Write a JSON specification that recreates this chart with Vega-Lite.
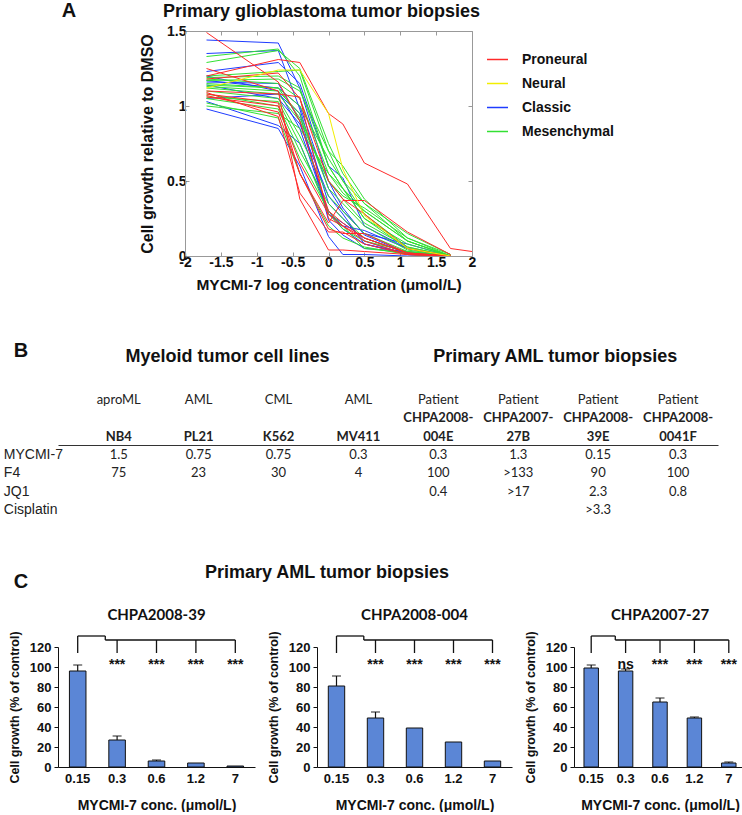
{
"$schema":"https://vega.github.io/schema/vega-lite/v6.json",
"padding":{"left":3,"top":1,"right":0,"bottom":0},
"background":"white",
"config":{"view":{"stroke":null},"font":"Liberation Sans","axis":{"labelOverlap":false}},
"spacing":42,
"datasets":{
"gbm":[
{"id":"c1","t":"Classic","x":-1.7,"y":1.44},{"id":"c1","t":"Classic","x":-0.7,"y":1.42},{"id":"c1","t":"Classic","x":-0.4,"y":1.12},{"id":"c1","t":"Classic","x":0,"y":0.5},{"id":"c1","t":"Classic","x":0.2,"y":0.32},{"id":"c1","t":"Classic","x":0.5,"y":0.14},{"id":"c1","t":"Classic","x":1.1,"y":0.02},{"id":"c1","t":"Classic","x":1.7,"y":0},
{"id":"c2","t":"Classic","x":-1.7,"y":1.35},{"id":"c2","t":"Classic","x":-0.7,"y":1.37},{"id":"c2","t":"Classic","x":-0.4,"y":0.98},{"id":"c2","t":"Classic","x":0,"y":0.35},{"id":"c2","t":"Classic","x":0.2,"y":0.25},{"id":"c2","t":"Classic","x":0.5,"y":0.1},{"id":"c2","t":"Classic","x":1.1,"y":0.01},{"id":"c2","t":"Classic","x":1.7,"y":0},
{"id":"c3","t":"Classic","x":-1.7,"y":1.23},{"id":"c3","t":"Classic","x":-0.7,"y":1.29},{"id":"c3","t":"Classic","x":-0.4,"y":1.15},{"id":"c3","t":"Classic","x":0,"y":0.6},{"id":"c3","t":"Classic","x":0.2,"y":0.52},{"id":"c3","t":"Classic","x":0.5,"y":0.2},{"id":"c3","t":"Classic","x":1.1,"y":0.05},{"id":"c3","t":"Classic","x":1.7,"y":0},
{"id":"c4","t":"Classic","x":-1.7,"y":0.98},{"id":"c4","t":"Classic","x":-0.7,"y":0.85},{"id":"c4","t":"Classic","x":-0.4,"y":0.6},{"id":"c4","t":"Classic","x":0,"y":0.13},{"id":"c4","t":"Classic","x":0.2,"y":0.01},{"id":"c4","t":"Classic","x":0.5,"y":0.01},{"id":"c4","t":"Classic","x":1.1,"y":0},{"id":"c4","t":"Classic","x":1.7,"y":0},
{"id":"c5","t":"Classic","x":-1.7,"y":1.03},{"id":"c5","t":"Classic","x":-0.7,"y":0.87},{"id":"c5","t":"Classic","x":-0.4,"y":0.75},{"id":"c5","t":"Classic","x":0,"y":0.3},{"id":"c5","t":"Classic","x":0.2,"y":0.18},{"id":"c5","t":"Classic","x":0.5,"y":0.08},{"id":"c5","t":"Classic","x":1.1,"y":0.02},{"id":"c5","t":"Classic","x":1.7,"y":0},
{"id":"c6","t":"Classic","x":-1.7,"y":1.16},{"id":"c6","t":"Classic","x":-0.7,"y":1.15},{"id":"c6","t":"Classic","x":-0.4,"y":0.9},{"id":"c6","t":"Classic","x":0,"y":0.28},{"id":"c6","t":"Classic","x":0.2,"y":0.2},{"id":"c6","t":"Classic","x":0.5,"y":0.17},{"id":"c6","t":"Classic","x":1.1,"y":0.05},{"id":"c6","t":"Classic","x":1.7,"y":0},
{"id":"c7","t":"Classic","x":-1.7,"y":1.17},{"id":"c7","t":"Classic","x":-0.7,"y":1.12},{"id":"c7","t":"Classic","x":-0.4,"y":1.0},{"id":"c7","t":"Classic","x":0,"y":0.45},{"id":"c7","t":"Classic","x":0.2,"y":0.3},{"id":"c7","t":"Classic","x":0.5,"y":0.15},{"id":"c7","t":"Classic","x":1.1,"y":0.08},{"id":"c7","t":"Classic","x":1.7,"y":0},
{"id":"c8","t":"Classic","x":-1.7,"y":1.05},{"id":"c8","t":"Classic","x":-0.7,"y":1.08},{"id":"c8","t":"Classic","x":-0.4,"y":0.95},{"id":"c8","t":"Classic","x":0,"y":0.24},{"id":"c8","t":"Classic","x":0.2,"y":0.14},{"id":"c8","t":"Classic","x":0.5,"y":0.05},{"id":"c8","t":"Classic","x":1.1,"y":0.03},{"id":"c8","t":"Classic","x":1.7,"y":0},
{"id":"c9","t":"Classic","x":-1.7,"y":1.2},{"id":"c9","t":"Classic","x":-0.7,"y":1.1},{"id":"c9","t":"Classic","x":-0.4,"y":0.85},{"id":"c9","t":"Classic","x":0,"y":0.28},{"id":"c9","t":"Classic","x":0.2,"y":0.22},{"id":"c9","t":"Classic","x":0.5,"y":0.12},{"id":"c9","t":"Classic","x":1.1,"y":0.02},{"id":"c9","t":"Classic","x":1.7,"y":0},
{"id":"c10","t":"Classic","x":-1.7,"y":1.14},{"id":"c10","t":"Classic","x":-0.7,"y":1.05},{"id":"c10","t":"Classic","x":-0.4,"y":0.88},{"id":"c10","t":"Classic","x":0,"y":0.4},{"id":"c10","t":"Classic","x":0.2,"y":0.28},{"id":"c10","t":"Classic","x":0.5,"y":0.08},{"id":"c10","t":"Classic","x":1.1,"y":0.01},{"id":"c10","t":"Classic","x":1.7,"y":0},
{"id":"m1","t":"Mesenchymal","x":-1.7,"y":1.33},{"id":"m1","t":"Mesenchymal","x":-0.7,"y":1.38},{"id":"m1","t":"Mesenchymal","x":-0.4,"y":1.2},{"id":"m1","t":"Mesenchymal","x":0,"y":0.6},{"id":"m1","t":"Mesenchymal","x":0.2,"y":0.45},{"id":"m1","t":"Mesenchymal","x":0.5,"y":0.25},{"id":"m1","t":"Mesenchymal","x":1.1,"y":0.05},{"id":"m1","t":"Mesenchymal","x":1.7,"y":0},
{"id":"m2","t":"Mesenchymal","x":-1.7,"y":1.29},{"id":"m2","t":"Mesenchymal","x":-0.7,"y":1.37},{"id":"m2","t":"Mesenchymal","x":-0.4,"y":1.25},{"id":"m2","t":"Mesenchymal","x":0,"y":0.75},{"id":"m2","t":"Mesenchymal","x":0.2,"y":0.55},{"id":"m2","t":"Mesenchymal","x":0.5,"y":0.35},{"id":"m2","t":"Mesenchymal","x":1.1,"y":0.1},{"id":"m2","t":"Mesenchymal","x":1.7,"y":0},
{"id":"m3","t":"Mesenchymal","x":-1.7,"y":1.2},{"id":"m3","t":"Mesenchymal","x":-0.7,"y":1.23},{"id":"m3","t":"Mesenchymal","x":-0.4,"y":1.24},{"id":"m3","t":"Mesenchymal","x":0,"y":0.7},{"id":"m3","t":"Mesenchymal","x":0.2,"y":0.6},{"id":"m3","t":"Mesenchymal","x":0.5,"y":0.38},{"id":"m3","t":"Mesenchymal","x":1.1,"y":0.12},{"id":"m3","t":"Mesenchymal","x":1.7,"y":0},
{"id":"m4","t":"Mesenchymal","x":-1.7,"y":1.18},{"id":"m4","t":"Mesenchymal","x":-0.7,"y":1.15},{"id":"m4","t":"Mesenchymal","x":-0.4,"y":1.05},{"id":"m4","t":"Mesenchymal","x":0,"y":0.55},{"id":"m4","t":"Mesenchymal","x":0.2,"y":0.45},{"id":"m4","t":"Mesenchymal","x":0.5,"y":0.3},{"id":"m4","t":"Mesenchymal","x":1.1,"y":0.1},{"id":"m4","t":"Mesenchymal","x":1.7,"y":0},
{"id":"m5","t":"Mesenchymal","x":-1.7,"y":1.15},{"id":"m5","t":"Mesenchymal","x":-0.7,"y":1.12},{"id":"m5","t":"Mesenchymal","x":-0.4,"y":1.0},{"id":"m5","t":"Mesenchymal","x":0,"y":0.65},{"id":"m5","t":"Mesenchymal","x":0.2,"y":0.5},{"id":"m5","t":"Mesenchymal","x":0.5,"y":0.28},{"id":"m5","t":"Mesenchymal","x":1.1,"y":0.06},{"id":"m5","t":"Mesenchymal","x":1.7,"y":0},
{"id":"m6","t":"Mesenchymal","x":-1.7,"y":1.13},{"id":"m6","t":"Mesenchymal","x":-0.7,"y":1.1},{"id":"m6","t":"Mesenchymal","x":-0.4,"y":0.95},{"id":"m6","t":"Mesenchymal","x":0,"y":0.45},{"id":"m6","t":"Mesenchymal","x":0.2,"y":0.35},{"id":"m6","t":"Mesenchymal","x":0.5,"y":0.2},{"id":"m6","t":"Mesenchymal","x":1.1,"y":0.04},{"id":"m6","t":"Mesenchymal","x":1.7,"y":0},
{"id":"m7","t":"Mesenchymal","x":-1.7,"y":1.12},{"id":"m7","t":"Mesenchymal","x":-0.7,"y":1.08},{"id":"m7","t":"Mesenchymal","x":-0.4,"y":0.9},{"id":"m7","t":"Mesenchymal","x":0,"y":0.5},{"id":"m7","t":"Mesenchymal","x":0.2,"y":0.38},{"id":"m7","t":"Mesenchymal","x":0.5,"y":0.22},{"id":"m7","t":"Mesenchymal","x":1.1,"y":0.06},{"id":"m7","t":"Mesenchymal","x":1.7,"y":0},
{"id":"m8","t":"Mesenchymal","x":-1.7,"y":1.1},{"id":"m8","t":"Mesenchymal","x":-0.7,"y":1.05},{"id":"m8","t":"Mesenchymal","x":-0.4,"y":0.8},{"id":"m8","t":"Mesenchymal","x":0,"y":0.4},{"id":"m8","t":"Mesenchymal","x":0.2,"y":0.3},{"id":"m8","t":"Mesenchymal","x":0.5,"y":0.15},{"id":"m8","t":"Mesenchymal","x":1.1,"y":0.03},{"id":"m8","t":"Mesenchymal","x":1.7,"y":0},
{"id":"m9","t":"Mesenchymal","x":-1.7,"y":1.08},{"id":"m9","t":"Mesenchymal","x":-0.7,"y":1.0},{"id":"m9","t":"Mesenchymal","x":-0.4,"y":0.7},{"id":"m9","t":"Mesenchymal","x":0,"y":0.35},{"id":"m9","t":"Mesenchymal","x":0.2,"y":0.25},{"id":"m9","t":"Mesenchymal","x":0.5,"y":0.12},{"id":"m9","t":"Mesenchymal","x":1.1,"y":0.02},{"id":"m9","t":"Mesenchymal","x":1.7,"y":0},
{"id":"m10","t":"Mesenchymal","x":-1.7,"y":1.05},{"id":"m10","t":"Mesenchymal","x":-0.7,"y":0.98},{"id":"m10","t":"Mesenchymal","x":-0.4,"y":0.65},{"id":"m10","t":"Mesenchymal","x":0,"y":0.3},{"id":"m10","t":"Mesenchymal","x":0.2,"y":0.2},{"id":"m10","t":"Mesenchymal","x":0.5,"y":0.05},{"id":"m10","t":"Mesenchymal","x":1.1,"y":0.02},{"id":"m10","t":"Mesenchymal","x":1.7,"y":0},
{"id":"m11","t":"Mesenchymal","x":-1.7,"y":1.0},{"id":"m11","t":"Mesenchymal","x":-0.7,"y":0.95},{"id":"m11","t":"Mesenchymal","x":-0.4,"y":0.85},{"id":"m11","t":"Mesenchymal","x":0,"y":0.55},{"id":"m11","t":"Mesenchymal","x":0.2,"y":0.42},{"id":"m11","t":"Mesenchymal","x":0.5,"y":0.3},{"id":"m11","t":"Mesenchymal","x":1.1,"y":0.1},{"id":"m11","t":"Mesenchymal","x":1.7,"y":0},
{"id":"m12","t":"Mesenchymal","x":-1.7,"y":1.02},{"id":"m12","t":"Mesenchymal","x":-0.7,"y":0.92},{"id":"m12","t":"Mesenchymal","x":-0.4,"y":0.55},{"id":"m12","t":"Mesenchymal","x":0,"y":0.2},{"id":"m12","t":"Mesenchymal","x":0.2,"y":0.12},{"id":"m12","t":"Mesenchymal","x":0.5,"y":0.06},{"id":"m12","t":"Mesenchymal","x":1.1,"y":0.01},{"id":"m12","t":"Mesenchymal","x":1.7,"y":0},
{"id":"m13","t":"Mesenchymal","x":-1.7,"y":1.17},{"id":"m13","t":"Mesenchymal","x":-0.7,"y":1.18},{"id":"m13","t":"Mesenchymal","x":-0.4,"y":1.1},{"id":"m13","t":"Mesenchymal","x":0,"y":0.7},{"id":"m13","t":"Mesenchymal","x":0.2,"y":0.5},{"id":"m13","t":"Mesenchymal","x":0.5,"y":0.35},{"id":"m13","t":"Mesenchymal","x":1.1,"y":0.15},{"id":"m13","t":"Mesenchymal","x":1.7,"y":0.01},
{"id":"m14","t":"Mesenchymal","x":-1.7,"y":1.14},{"id":"m14","t":"Mesenchymal","x":-0.7,"y":1.12},{"id":"m14","t":"Mesenchymal","x":-0.4,"y":0.92},{"id":"m14","t":"Mesenchymal","x":0,"y":0.5},{"id":"m14","t":"Mesenchymal","x":0.2,"y":0.4},{"id":"m14","t":"Mesenchymal","x":0.5,"y":0.32},{"id":"m14","t":"Mesenchymal","x":1.1,"y":0.12},{"id":"m14","t":"Mesenchymal","x":1.7,"y":0.01},
{"id":"m15","t":"Mesenchymal","x":-1.7,"y":1.06},{"id":"m15","t":"Mesenchymal","x":-0.7,"y":1.03},{"id":"m15","t":"Mesenchymal","x":-0.4,"y":0.75},{"id":"m15","t":"Mesenchymal","x":0,"y":0.28},{"id":"m15","t":"Mesenchymal","x":0.2,"y":0.18},{"id":"m15","t":"Mesenchymal","x":0.5,"y":0.1},{"id":"m15","t":"Mesenchymal","x":1.1,"y":0.03},{"id":"m15","t":"Mesenchymal","x":1.7,"y":0},
{"id":"m16","t":"Mesenchymal","x":-1.7,"y":1.19},{"id":"m16","t":"Mesenchymal","x":-0.7,"y":1.2},{"id":"m16","t":"Mesenchymal","x":-0.4,"y":1.12},{"id":"m16","t":"Mesenchymal","x":0,"y":0.6},{"id":"m16","t":"Mesenchymal","x":0.2,"y":0.45},{"id":"m16","t":"Mesenchymal","x":0.5,"y":0.25},{"id":"m16","t":"Mesenchymal","x":1.1,"y":0.08},{"id":"m16","t":"Mesenchymal","x":1.7,"y":0},
{"id":"p1","t":"Proneural","x":-1.7,"y":1.49},{"id":"p1","t":"Proneural","x":-0.7,"y":1.16},{"id":"p1","t":"Proneural","x":-0.4,"y":0.9},{"id":"p1","t":"Proneural","x":0,"y":0.3},{"id":"p1","t":"Proneural","x":0.2,"y":0.22},{"id":"p1","t":"Proneural","x":0.5,"y":0.12},{"id":"p1","t":"Proneural","x":1.1,"y":0.02},{"id":"p1","t":"Proneural","x":1.7,"y":0},
{"id":"p2","t":"Proneural","x":-1.7,"y":1.2},{"id":"p2","t":"Proneural","x":-0.7,"y":1.31},{"id":"p2","t":"Proneural","x":-0.4,"y":1.29},{"id":"p2","t":"Proneural","x":0,"y":0.95},{"id":"p2","t":"Proneural","x":0.2,"y":0.88},{"id":"p2","t":"Proneural","x":0.5,"y":0.62},{"id":"p2","t":"Proneural","x":1.1,"y":0.48},{"id":"p2","t":"Proneural","x":1.7,"y":0.05},{"id":"p2","t":"Proneural","x":2,"y":0.03},
{"id":"p3","t":"Proneural","x":-1.7,"y":1.25},{"id":"p3","t":"Proneural","x":-0.7,"y":1.1},{"id":"p3","t":"Proneural","x":-0.4,"y":0.38},{"id":"p3","t":"Proneural","x":0,"y":0.04},{"id":"p3","t":"Proneural","x":0.2,"y":0.04},{"id":"p3","t":"Proneural","x":0.5,"y":0.03},{"id":"p3","t":"Proneural","x":1.1,"y":0.01},{"id":"p3","t":"Proneural","x":1.7,"y":0},
{"id":"p4","t":"Proneural","x":-1.7,"y":1.08},{"id":"p4","t":"Proneural","x":-0.7,"y":1.02},{"id":"p4","t":"Proneural","x":-0.4,"y":0.55},{"id":"p4","t":"Proneural","x":0,"y":0.18},{"id":"p4","t":"Proneural","x":0.2,"y":0.15},{"id":"p4","t":"Proneural","x":0.5,"y":0.15},{"id":"p4","t":"Proneural","x":1.1,"y":0.02},{"id":"p4","t":"Proneural","x":1.7,"y":0},
{"id":"p5","t":"Proneural","x":-1.7,"y":1.1},{"id":"p5","t":"Proneural","x":-0.7,"y":1.08},{"id":"p5","t":"Proneural","x":-0.4,"y":1.06},{"id":"p5","t":"Proneural","x":0,"y":0.25},{"id":"p5","t":"Proneural","x":0.2,"y":0.2},{"id":"p5","t":"Proneural","x":0.5,"y":0.1},{"id":"p5","t":"Proneural","x":1.1,"y":0.01},{"id":"p5","t":"Proneural","x":1.7,"y":0},
{"id":"p6","t":"Proneural","x":-1.7,"y":1.07},{"id":"p6","t":"Proneural","x":-0.7,"y":0.96},{"id":"p6","t":"Proneural","x":-0.4,"y":0.55},{"id":"p6","t":"Proneural","x":0,"y":0.22},{"id":"p6","t":"Proneural","x":0.2,"y":0.37},{"id":"p6","t":"Proneural","x":0.5,"y":0.37},{"id":"p6","t":"Proneural","x":1.1,"y":0.16},{"id":"p6","t":"Proneural","x":1.7,"y":0.01},
{"id":"p7","t":"Proneural","x":-1.7,"y":1.18},{"id":"p7","t":"Proneural","x":-0.7,"y":1.22},{"id":"p7","t":"Proneural","x":-0.4,"y":1.05},{"id":"p7","t":"Proneural","x":0,"y":0.5},{"id":"p7","t":"Proneural","x":0.2,"y":0.38},{"id":"p7","t":"Proneural","x":0.5,"y":0.28},{"id":"p7","t":"Proneural","x":1.1,"y":0.05},{"id":"p7","t":"Proneural","x":1.7,"y":0},
{"id":"p8","t":"Proneural","x":-1.7,"y":1.06},{"id":"p8","t":"Proneural","x":-0.7,"y":1.0},{"id":"p8","t":"Proneural","x":-0.4,"y":0.62},{"id":"p8","t":"Proneural","x":0,"y":0.28},{"id":"p8","t":"Proneural","x":0.2,"y":0.2},{"id":"p8","t":"Proneural","x":0.5,"y":0.12},{"id":"p8","t":"Proneural","x":1.1,"y":0.02},{"id":"p8","t":"Proneural","x":1.7,"y":0},
{"id":"p9","t":"Proneural","x":-1.7,"y":1.09},{"id":"p9","t":"Proneural","x":-0.7,"y":0.93},{"id":"p9","t":"Proneural","x":-0.4,"y":0.42},{"id":"p9","t":"Proneural","x":0,"y":0.16},{"id":"p9","t":"Proneural","x":0.2,"y":0.16},{"id":"p9","t":"Proneural","x":0.5,"y":0.08},{"id":"p9","t":"Proneural","x":1.1,"y":0.01},{"id":"p9","t":"Proneural","x":1.7,"y":0},
{"id":"n1","t":"Neural","x":-1.7,"y":1.12},{"id":"n1","t":"Neural","x":-0.7,"y":1.24},{"id":"n1","t":"Neural","x":-0.4,"y":1.24},{"id":"n1","t":"Neural","x":0,"y":0.95},{"id":"n1","t":"Neural","x":0.2,"y":0.58},{"id":"n1","t":"Neural","x":0.5,"y":0.27},{"id":"n1","t":"Neural","x":1.1,"y":0.05},{"id":"n1","t":"Neural","x":1.7,"y":0}
],
"tbl":[
{"c":0,"r":"hdr","v":"B","k":"L"},
{"c":2.5,"r":"hdr","v":"Myeloid tumor cell lines","k":"h1"},
{"c":6.5,"r":"hdr","v":"Primary AML tumor biopsies","k":"h2"},
{"c":1,"r":"type","v":"aproML","k":"n"},{"c":2,"r":"type","v":"AML","k":"n"},{"c":3,"r":"type","v":"CML","k":"n"},{"c":4,"r":"type","v":"AML","k":"n"},
{"c":5,"r":"type","v":"Patient","k":"n"},{"c":6,"r":"type","v":"Patient","k":"n"},{"c":7,"r":"type","v":"Patient","k":"n"},{"c":8,"r":"type","v":"Patient","k":"n"},
{"c":5,"r":"chpa","v":"CHPA2008-","k":"b"},{"c":6,"r":"chpa","v":"CHPA2007-","k":"b"},{"c":7,"r":"chpa","v":"CHPA2008-","k":"b"},{"c":8,"r":"chpa","v":"CHPA2008-","k":"b"},
{"c":1,"r":"id","v":"NB4","k":"b"},{"c":2,"r":"id","v":"PL21","k":"b"},{"c":3,"r":"id","v":"K562","k":"b"},{"c":4,"r":"id","v":"MV411","k":"b"},
{"c":5,"r":"id","v":"004E","k":"b"},{"c":6,"r":"id","v":"27B","k":"b"},{"c":7,"r":"id","v":"39E","k":"b"},{"c":8,"r":"id","v":"0041F","k":"b"},
{"c":0,"r":"MYCMI-7","v":"MYCMI-7","k":"rl"},{"c":0,"r":"F4","v":"F4","k":"rl"},{"c":0,"r":"JQ1","v":"JQ1","k":"rl"},{"c":0,"r":"Cisplatin","v":"Cisplatin","k":"rl"},
{"c":1,"r":"MYCMI-7","v":"1.5","k":"n"},{"c":2,"r":"MYCMI-7","v":"0.75","k":"n"},{"c":3,"r":"MYCMI-7","v":"0.75","k":"n"},{"c":4,"r":"MYCMI-7","v":"0.3","k":"n"},
{"c":5,"r":"MYCMI-7","v":"0.3","k":"n"},{"c":6,"r":"MYCMI-7","v":"1.3","k":"n"},{"c":7,"r":"MYCMI-7","v":"0.15","k":"n"},{"c":8,"r":"MYCMI-7","v":"0.3","k":"n"},
{"c":1,"r":"F4","v":"75","k":"n"},{"c":2,"r":"F4","v":"23","k":"n"},{"c":3,"r":"F4","v":"30","k":"n"},{"c":4,"r":"F4","v":"4","k":"n"},
{"c":5,"r":"F4","v":"100","k":"n"},{"c":6,"r":"F4","v":">133","k":"n"},{"c":7,"r":"F4","v":"90","k":"n"},{"c":8,"r":"F4","v":"100","k":"n"},
{"c":5,"r":"JQ1","v":"0.4","k":"n"},{"c":6,"r":"JQ1","v":">17","k":"n"},{"c":7,"r":"JQ1","v":"2.3","k":"n"},{"c":8,"r":"JQ1","v":"0.8","k":"n"},
{"c":7,"r":"Cisplatin","v":">3.3","k":"n"}
],
"bars":[
{"g":"CHPA2008-39","c":"0.15","v":96,"e":102,"s":""},{"g":"CHPA2008-39","c":"0.3","v":27,"e":31,"s":"***"},{"g":"CHPA2008-39","c":"0.6","v":6,"e":7,"s":"***"},{"g":"CHPA2008-39","c":"1.2","v":4,"e":4,"s":"***"},{"g":"CHPA2008-39","c":"7","v":1,"e":1,"s":"***"},
{"g":"CHPA2008-004","c":"0.15","v":81,"e":91,"s":""},{"g":"CHPA2008-004","c":"0.3","v":49,"e":55,"s":"***"},{"g":"CHPA2008-004","c":"0.6","v":39,"e":39,"s":"***"},{"g":"CHPA2008-004","c":"1.2","v":25,"e":25,"s":"***"},{"g":"CHPA2008-004","c":"7","v":6,"e":6,"s":"***"},
{"g":"CHPA2007-27","c":"0.15","v":99,"e":102,"s":""},{"g":"CHPA2007-27","c":"0.3","v":96,"e":98,"s":"ns"},{"g":"CHPA2007-27","c":"0.6","v":65,"e":69,"s":"***"},{"g":"CHPA2007-27","c":"1.2","v":49,"e":50,"s":"***"},{"g":"CHPA2007-27","c":"7","v":4,"e":5,"s":"***"}
],
"br":[
{"x1":1,"x2":1,"y1":114,"y2":131},{"x1":1,"x2":1.7,"y1":131,"y2":131},{"x1":1.7,"x2":1.7,"y1":131,"y2":127},{"x1":1.7,"x2":5,"y1":127,"y2":127},
{"x1":2,"x2":2,"y1":127,"y2":114},{"x1":3,"x2":3,"y1":127,"y2":114},{"x1":4,"x2":4,"y1":127,"y2":114},{"x1":5,"x2":5,"y1":127,"y2":114}
]
},
"vconcat":[
{"spacing":48,"vconcat":[
{"spacing":0,"hconcat":[
 {"width":81,"height":20,"data":{"values":[{"p":"A"}]},"mark":{"type":"text","fontSize":20,"fontWeight":"bold","baseline":"middle","dx":-29.5,"dy":-30,"color":"#111"},"encoding":{"text":{"field":"p"}}},
 {"width":287,"height":225,"data":{"name":"gbm"},
  "layer":[
   {"mark":{"type":"line","strokeWidth":1,"clip":true},
    "encoding":{
     "x":{"field":"x","type":"quantitative","scale":{"domain":[-2,2],"nice":false,"zero":false},
      "axis":{"values":[-2,-1.5,-1,-0.5,0,0.5,1,1.5,2],"labelExpr":"'' + datum.value","grid":false,"tickSize":-4,"tickColor":"#999","domainColor":"#999","labelFontSize":14,"labelFontWeight":"bold","labelColor":"#111","labelPadding":3,"labelFlush":false,"labelOverlap":false,"title":"MYCMI-7 log concentration (\u03bcmol/L)","titleFontSize":15.5,"titleFontWeight":"bold","titleColor":"#111","titlePadding":8}},
     "y":{"field":"y","type":"quantitative","scale":{"domain":[0,1.5],"nice":false},
      "axis":{"values":[0,0.5,1,1.5],"labelExpr":"'' + datum.value","grid":false,"tickSize":-4,"tickColor":"#999","domainColor":"#999","labelFontSize":14,"labelFontWeight":"bold","labelColor":"#111","labelPadding":3,"labelFlush":false,"labelOverlap":false,"title":"Cell growth relative to DMSO","titleFontSize":16,"titleFontWeight":"bold","titleColor":"#111","titlePadding":11}},
     "color":{"field":"t","type":"nominal","scale":{"domain":["Proneural","Neural","Classic","Mesenchymal"],"range":["#ff2a2a","#f2ee00","#1f3cff","#33e033"]},
      "legend":{"orient":"none","legendX":428,"legendY":17,"title":null,"symbolType":"stroke","symbolSize":441,"symbolStrokeWidth":1.5,"labelFontSize":14,"labelFontWeight":"bold","labelColor":"#111","rowPadding":5,"labelOffset":13,"padding":0}},
     "detail":{"field":"id"}}},
   {"transform":[{"filter":"datum.id=='p1'"}],"mark":{"type":"point","opacity":0},
    "encoding":{
     "x":{"field":"x","type":"quantitative","scale":{"domain":[-2,2],"nice":false,"zero":false},
      "axis":{"orient":"top","values":[-2,-1.5,-1,-0.5,0,0.5,1,1.5,2],"labels":false,"grid":false,"tickSize":-4,"tickColor":"#999","domainColor":"#999","title":"Primary glioblastoma tumor biopsies","titleFontSize":18,"titleFontWeight":"bold","titleColor":"#111","titlePadding":10,"titleX":136}},
     "y":{"field":"y","type":"quantitative","scale":{"domain":[0,1.5],"nice":false},
      "axis":{"orient":"right","values":[0,0.5,1,1.5],"labels":false,"grid":false,"tickSize":-4,"tickColor":"#999","domainColor":"#999","title":null}}}}
  ],
  "resolve":{"axis":{"x":"independent","y":"independent"}}}
]},
{"width":660,"height":165,"data":{"name":"tbl"},
 "encoding":{
  "x":{"field":"c","type":"quantitative","scale":{"domain":[0.24,8.5],"nice":false,"zero":false},"axis":null},
  "y":{"field":"r","type":"nominal","scale":{"type":"band","domain":["hdr","gap","type","chpa","id","MYCMI-7","F4","JQ1","Cisplatin"],"paddingInner":0,"paddingOuter":0},
   "axis":{"values":["MYCMI-7"],"bandPosition":0,"grid":true,"gridColor":"#333","gridOpacity":1,"gridWidth":1,"labels":false,"ticks":false,"domain":false,"title":null}}},
 "layer":[
  {"transform":[{"filter":"datum.k=='n'"}],"mark":{"type":"text","font":"Lato","fontSize":13,"baseline":"middle","color":"#222"},"encoding":{"text":{"field":"v"}}},
  {"transform":[{"filter":"datum.k=='b'"}],"mark":{"type":"text","font":"Lato","fontSize":13,"fontWeight":"bold","baseline":"middle","color":"#222"},"encoding":{"text":{"field":"v"}}},
  {"transform":[{"filter":"datum.k=='rl'"}],"mark":{"type":"text","fontSize":14,"align":"left","dx":-35,"baseline":"middle","color":"#222"},"encoding":{"text":{"field":"v"}}},
  {"transform":[{"filter":"datum.k=='h1'"}],"mark":{"type":"text","fontSize":18,"fontWeight":"bold","dx":-11,"dy":-6,"baseline":"middle","color":"#111"},"encoding":{"text":{"field":"v"}}},
  {"transform":[{"filter":"datum.k=='h2'"}],"mark":{"type":"text","fontSize":18,"fontWeight":"bold","dx":-3,"dy":-6,"baseline":"middle","color":"#111"},"encoding":{"text":{"field":"v"}}},
  {"transform":[{"filter":"datum.k=='L'"}],"mark":{"type":"text","fontSize":20,"fontWeight":"bold","align":"left","dx":-25,"dy":-12,"baseline":"middle","color":"#111"},"encoding":{"text":{"field":"v"}}}
 ]}
]},
{"spacing":16,"vconcat":[
 {"spacing":0,"hconcat":[
  {"width":20,"height":24,"data":{"values":[{"p":"C"}]},"mark":{"type":"text","fontSize":20,"fontWeight":"bold","baseline":"middle","dx":-47,"dy":9,"color":"#111"},"encoding":{"text":{"field":"p"}}},
  {"width":498,"height":24,"data":{"values":[{"p":"Primary AML tumor biopsies"}]},"mark":{"type":"text","fontSize":18,"fontWeight":"bold","baseline":"middle","color":"#111"},"encoding":{"text":{"field":"p"}}}
 ]},
 {"spacing":12,"hconcat":[
  {"width":197,"height":120,
   "title":{"text":"CHPA2008-39","font":"Lato","fontSize":15,"fontWeight":"bold","offset":6,"color":"#111"},
   "layer":[
    {"data":{"name":"bars"},"transform":[{"filter":"datum.g=='CHPA2008-39'"}],
     "encoding":{"x":{"field":"c","type":"ordinal","sort":null,"scale":{"paddingInner":0.58,"paddingOuter":0.29},
       "axis":{"ticks":false,"domainColor":"#111","labelAngle":0,"labelFontSize":13,"labelFontWeight":"bold","labelColor":"#111","labelPadding":5,"title":"MYCMI-7 conc. (\u03bcmol/L)","titleFontSize":14,"titleFontWeight":"bold","titleColor":"#111","titlePadding":13}}},
     "layer":[
      {"mark":{"type":"bar","fill":"#5b86d6","stroke":"#111","strokeWidth":1},
       "encoding":{"y":{"field":"v","type":"quantitative","scale":{"domain":[0,120],"nice":false},
        "axis":{"values":[0,20,40,60,80,100,120],"labelOverlap":false,"grid":false,"tickSize":4,"tickColor":"#111","domainColor":"#111","labelFontSize":13,"labelFontWeight":"bold","labelColor":"#111","labelPadding":3,"title":"Cell growth  (% of control)","titleFontSize":12.5,"titleFontWeight":"bold","titleColor":"#111","titlePadding":8}}}},
      {"transform":[{"filter":"datum.e>datum.v"}],"mark":{"type":"rule","color":"#111","strokeWidth":1.2},"encoding":{"y":{"field":"v","type":"quantitative",
        "axis":{"values":[0,20,40,60,80,100,120],"labelOverlap":false,"grid":false,"tickSize":4,"tickColor":"#111","domainColor":"#111","labelFontSize":13,"labelFontWeight":"bold","labelColor":"#111","labelPadding":3,"title":"Cell growth  (% of control)","titleFontSize":12.5,"titleFontWeight":"bold","titleColor":"#111","titlePadding":8}},"y2":{"field":"e"}}},
      {"transform":[{"filter":"datum.e>datum.v"}],"mark":{"type":"tick","color":"#111","size":9,"thickness":1.3},"encoding":{"y":{"field":"e","type":"quantitative",
        "axis":{"values":[0,20,40,60,80,100,120],"labelOverlap":false,"grid":false,"tickSize":4,"tickColor":"#111","domainColor":"#111","labelFontSize":13,"labelFontWeight":"bold","labelColor":"#111","labelPadding":3,"title":"Cell growth  (% of control)","titleFontSize":12.5,"titleFontWeight":"bold","titleColor":"#111","titlePadding":8}}}},
      {"transform":[{"filter":"datum.s!=''"}],"mark":{"type":"text","fontSize":14,"fontWeight":"bold","baseline":"middle","dy":3,"color":"#111"},"encoding":{"y":{"datum":105,"type":"quantitative",
        "axis":{"values":[0,20,40,60,80,100,120],"labelOverlap":false,"grid":false,"tickSize":4,"tickColor":"#111","domainColor":"#111","labelFontSize":13,"labelFontWeight":"bold","labelColor":"#111","labelPadding":3,"title":"Cell growth  (% of control)","titleFontSize":12.5,"titleFontWeight":"bold","titleColor":"#111","titlePadding":8}},"text":{"field":"s"}}}
     ]},
    {"data":{"name":"br"},"mark":{"type":"rule","color":"#111","strokeWidth":1.3},
     "encoding":{"x":{"field":"x1","type":"quantitative","scale":{"domain":[0.5,5.5],"nice":false,"zero":false},"axis":null},"x2":{"field":"x2"},
      "y":{"field":"y1","type":"quantitative","scale":{"domain":[0,120],"nice":false},
        "axis":{"values":[0,20,40,60,80,100,120],"labelOverlap":false,"grid":false,"tickSize":4,"tickColor":"#111","domainColor":"#111","labelFontSize":13,"labelFontWeight":"bold","labelColor":"#111","labelPadding":3,"title":"Cell growth  (% of control)","titleFontSize":12.5,"titleFontWeight":"bold","titleColor":"#111","titlePadding":8}},"y2":{"field":"y2"}}}
   ],
   "resolve":{"scale":{"x":"independent"}}},
  {"width":195,"height":120,
   "title":{"text":"CHPA2008-004","font":"Lato","fontSize":15,"fontWeight":"bold","offset":6,"color":"#111"},
   "layer":[
    {"data":{"name":"bars"},"transform":[{"filter":"datum.g=='CHPA2008-004'"}],
     "encoding":{"x":{"field":"c","type":"ordinal","sort":null,"scale":{"paddingInner":0.58,"paddingOuter":0.29},
       "axis":{"ticks":false,"domainColor":"#111","labelAngle":0,"labelFontSize":13,"labelFontWeight":"bold","labelColor":"#111","labelPadding":5,"title":"MYCMI-7 conc. (\u03bcmol/L)","titleFontSize":14,"titleFontWeight":"bold","titleColor":"#111","titlePadding":13}}},
     "layer":[
      {"mark":{"type":"bar","fill":"#5b86d6","stroke":"#111","strokeWidth":1},
       "encoding":{"y":{"field":"v","type":"quantitative","scale":{"domain":[0,120],"nice":false},
        "axis":{"values":[0,20,40,60,80,100,120],"labelOverlap":false,"grid":false,"tickSize":4,"tickColor":"#111","domainColor":"#111","labelFontSize":13,"labelFontWeight":"bold","labelColor":"#111","labelPadding":3,"title":"Cell growth  (% of control)","titleFontSize":12.5,"titleFontWeight":"bold","titleColor":"#111","titlePadding":8}}}},
      {"transform":[{"filter":"datum.e>datum.v"}],"mark":{"type":"rule","color":"#111","strokeWidth":1.2},"encoding":{"y":{"field":"v","type":"quantitative",
        "axis":{"values":[0,20,40,60,80,100,120],"labelOverlap":false,"grid":false,"tickSize":4,"tickColor":"#111","domainColor":"#111","labelFontSize":13,"labelFontWeight":"bold","labelColor":"#111","labelPadding":3,"title":"Cell growth  (% of control)","titleFontSize":12.5,"titleFontWeight":"bold","titleColor":"#111","titlePadding":8}},"y2":{"field":"e"}}},
      {"transform":[{"filter":"datum.e>datum.v"}],"mark":{"type":"tick","color":"#111","size":9,"thickness":1.3},"encoding":{"y":{"field":"e","type":"quantitative",
        "axis":{"values":[0,20,40,60,80,100,120],"labelOverlap":false,"grid":false,"tickSize":4,"tickColor":"#111","domainColor":"#111","labelFontSize":13,"labelFontWeight":"bold","labelColor":"#111","labelPadding":3,"title":"Cell growth  (% of control)","titleFontSize":12.5,"titleFontWeight":"bold","titleColor":"#111","titlePadding":8}}}},
      {"transform":[{"filter":"datum.s!=''"}],"mark":{"type":"text","fontSize":14,"fontWeight":"bold","baseline":"middle","dy":3,"color":"#111"},"encoding":{"y":{"datum":105,"type":"quantitative",
        "axis":{"values":[0,20,40,60,80,100,120],"labelOverlap":false,"grid":false,"tickSize":4,"tickColor":"#111","domainColor":"#111","labelFontSize":13,"labelFontWeight":"bold","labelColor":"#111","labelPadding":3,"title":"Cell growth  (% of control)","titleFontSize":12.5,"titleFontWeight":"bold","titleColor":"#111","titlePadding":8}},"text":{"field":"s"}}}
     ]},
    {"data":{"name":"br"},"mark":{"type":"rule","color":"#111","strokeWidth":1.3},
     "encoding":{"x":{"field":"x1","type":"quantitative","scale":{"domain":[0.5,5.5],"nice":false,"zero":false},"axis":null},"x2":{"field":"x2"},
      "y":{"field":"y1","type":"quantitative","scale":{"domain":[0,120],"nice":false},
        "axis":{"values":[0,20,40,60,80,100,120],"labelOverlap":false,"grid":false,"tickSize":4,"tickColor":"#111","domainColor":"#111","labelFontSize":13,"labelFontWeight":"bold","labelColor":"#111","labelPadding":3,"title":"Cell growth  (% of control)","titleFontSize":12.5,"titleFontWeight":"bold","titleColor":"#111","titlePadding":8}},"y2":{"field":"y2"}}}
   ],
   "resolve":{"scale":{"x":"independent"}}},
  {"width":172,"height":120,
   "title":{"text":"CHPA2007-27","font":"Lato","fontSize":15,"fontWeight":"bold","offset":6,"color":"#111"},
   "layer":[
    {"data":{"name":"bars"},"transform":[{"filter":"datum.g=='CHPA2007-27'"}],
     "encoding":{"x":{"field":"c","type":"ordinal","sort":null,"scale":{"paddingInner":0.58,"paddingOuter":0.29},
       "axis":{"ticks":false,"domainColor":"#111","labelAngle":0,"labelFontSize":13,"labelFontWeight":"bold","labelColor":"#111","labelPadding":5,"title":"MYCMI-7 conc. (\u03bcmol/L)","titleFontSize":14,"titleFontWeight":"bold","titleColor":"#111","titlePadding":13}}},
     "layer":[
      {"mark":{"type":"bar","fill":"#5b86d6","stroke":"#111","strokeWidth":1},
       "encoding":{"y":{"field":"v","type":"quantitative","scale":{"domain":[0,120],"nice":false},
        "axis":{"values":[0,20,40,60,80,100,120],"labelOverlap":false,"grid":false,"tickSize":4,"tickColor":"#111","domainColor":"#111","labelFontSize":13,"labelFontWeight":"bold","labelColor":"#111","labelPadding":3,"title":"Cell growth  (% of control)","titleFontSize":12.5,"titleFontWeight":"bold","titleColor":"#111","titlePadding":8}}}},
      {"transform":[{"filter":"datum.e>datum.v"}],"mark":{"type":"rule","color":"#111","strokeWidth":1.2},"encoding":{"y":{"field":"v","type":"quantitative",
        "axis":{"values":[0,20,40,60,80,100,120],"labelOverlap":false,"grid":false,"tickSize":4,"tickColor":"#111","domainColor":"#111","labelFontSize":13,"labelFontWeight":"bold","labelColor":"#111","labelPadding":3,"title":"Cell growth  (% of control)","titleFontSize":12.5,"titleFontWeight":"bold","titleColor":"#111","titlePadding":8}},"y2":{"field":"e"}}},
      {"transform":[{"filter":"datum.e>datum.v"}],"mark":{"type":"tick","color":"#111","size":9,"thickness":1.3},"encoding":{"y":{"field":"e","type":"quantitative",
        "axis":{"values":[0,20,40,60,80,100,120],"labelOverlap":false,"grid":false,"tickSize":4,"tickColor":"#111","domainColor":"#111","labelFontSize":13,"labelFontWeight":"bold","labelColor":"#111","labelPadding":3,"title":"Cell growth  (% of control)","titleFontSize":12.5,"titleFontWeight":"bold","titleColor":"#111","titlePadding":8}}}},
      {"transform":[{"filter":"datum.s!=''"}],"mark":{"type":"text","fontSize":14,"fontWeight":"bold","baseline":"middle","dy":3,"color":"#111"},"encoding":{"y":{"datum":105,"type":"quantitative",
        "axis":{"values":[0,20,40,60,80,100,120],"labelOverlap":false,"grid":false,"tickSize":4,"tickColor":"#111","domainColor":"#111","labelFontSize":13,"labelFontWeight":"bold","labelColor":"#111","labelPadding":3,"title":"Cell growth  (% of control)","titleFontSize":12.5,"titleFontWeight":"bold","titleColor":"#111","titlePadding":8}},"text":{"field":"s"}}}
     ]},
    {"data":{"name":"br"},"mark":{"type":"rule","color":"#111","strokeWidth":1.3},
     "encoding":{"x":{"field":"x1","type":"quantitative","scale":{"domain":[0.5,5.5],"nice":false,"zero":false},"axis":null},"x2":{"field":"x2"},
      "y":{"field":"y1","type":"quantitative","scale":{"domain":[0,120],"nice":false},
        "axis":{"values":[0,20,40,60,80,100,120],"labelOverlap":false,"grid":false,"tickSize":4,"tickColor":"#111","domainColor":"#111","labelFontSize":13,"labelFontWeight":"bold","labelColor":"#111","labelPadding":3,"title":"Cell growth  (% of control)","titleFontSize":12.5,"titleFontWeight":"bold","titleColor":"#111","titlePadding":8}},"y2":{"field":"y2"}}}
   ],
   "resolve":{"scale":{"x":"independent"}}}
 ]}
]}
]
}
